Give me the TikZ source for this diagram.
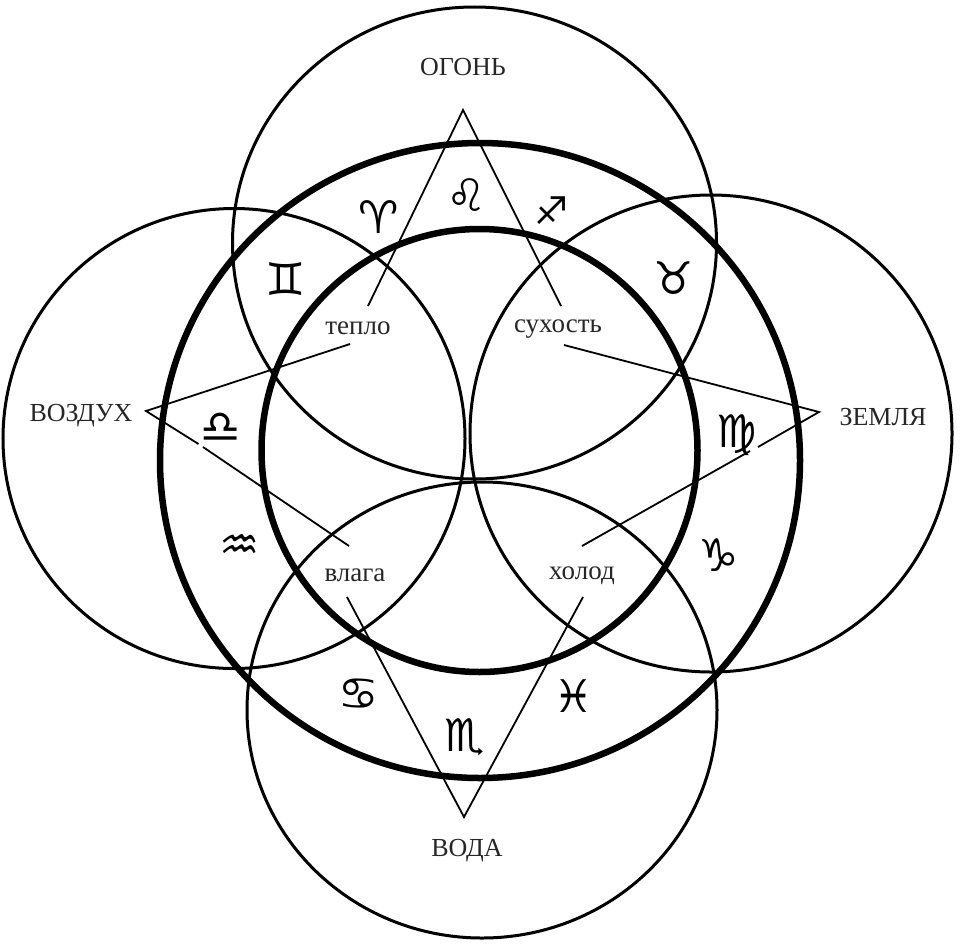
\documentclass[tikz,border=0pt]{standalone}
\usepackage{fontspec}
\setmainfont{Liberation Serif}
\newfontfamily\zodiacfont{DejaVu Sans}
\tikzset{
  thinring/.style={draw=black,line width=3pt},
  thickring/.style={draw=black,line width=6.5pt},
  rayline/.style={draw=black,line width=1.8pt,line join=miter},
  elementlabel/.style={font=\fontsize{26}{28}\selectfont,inner sep=0pt,text=black!85},
  qualitylabel/.style={font=\fontsize{27}{29}\selectfont,inner sep=0pt,text=black!85},
  signlabel/.style={font=\zodiacfont\fontsize{45}{47}\selectfont,inner sep=0pt},
  smallsign/.style={font=\zodiacfont\fontsize{38}{40}\selectfont,inner sep=0pt}
}
\begin{document}
\begin{tikzpicture}[x=1pt,y=-1pt]
\useasboundingbox[fill=white] (0,0) rectangle (971,950);
% rings
\draw[thinring] (474.5,243) ellipse [x radius=242,y radius=236];
\draw[thinring] (234,438.5) ellipse [x radius=231,y radius=230];
\draw[thinring] (711,433.5) ellipse [x radius=241,y radius=238.5];
\draw[thinring] (482,710) ellipse [x radius=235,y radius=228];
\draw[thickring] (480,460.5) ellipse [x radius=320,y radius=317.5];
\draw[thickring] (479.5,450.5) ellipse [x radius=218,y radius=221.5];
% labels
\node[elementlabel] (fire) at (463,67) {ОГОНЬ};
\node[elementlabel] (air) at (81,416) {ВОЗДУХ};
\node[elementlabel] (earth) at (883,417) {ЗЕМЛЯ};
\node[elementlabel] (water) at (467,851) {ВОДА};
\node[qualitylabel] (heat) at (358,328) {тепло};
\node[qualitylabel] (dry) at (558,329) {сухость};
\node[qualitylabel] (moist) at (355,575) {влага};
\node[qualitylabel] (cold) at (582,576) {холод};
% triangle apexes and free ends
\coordinate (fireapex) at (463,110);
\coordinate (airapex) at (146,411);
\coordinate (earthapex) at (819,412);
\coordinate (waterapex) at (464,817);
\coordinate (heatup) at (368,306);
\coordinate (dryup) at (561,306);
\coordinate (heatside) at (350,344);
\coordinate (moistside) at (349,546);
\coordinate (dryside) at (564,345);
\coordinate (coldside) at (582,546);
\coordinate (moistdown) at (347,597);
\coordinate (colddown) at (583,597);
\draw[rayline] (heatup) -- (fireapex) -- (dryup);
\draw[rayline] (heatside) -- (airapex) -- (198.5,444);
\draw[rayline] (203,447) -- (moistside);
\draw[rayline] (dryside) -- (earthapex) -- (758,447);
\draw[rayline] (750,451) -- (coldside);
\draw[rayline] (moistdown) -- (waterapex) -- (colddown);
% zodiac signs
\node[signlabel] (gemini) at (286,279) {♊};
\node[signlabel] (aries) at (379,217) {♈};
\node[signlabel] (leo) at (467,195) {♌};
\node[smallsign] (sagittarius) at (552,211) {♐};
\node[signlabel] (taurus) at (674,278) {♉};
\node[signlabel] (virgo) at (737,435) {♍};
\node[signlabel] (capricorn) at (719,555) {♑};
\node[signlabel] (pisces) at (574,696) {♓};
\node[signlabel] (scorpio) at (465,737) {♏};
\node[signlabel] (cancer) at (359,694) {♋};
\node[signlabel] (aquarius) at (240,547) {♒};
\node[signlabel] (libra) at (221,428) {♎};
\end{tikzpicture}
\end{document}
